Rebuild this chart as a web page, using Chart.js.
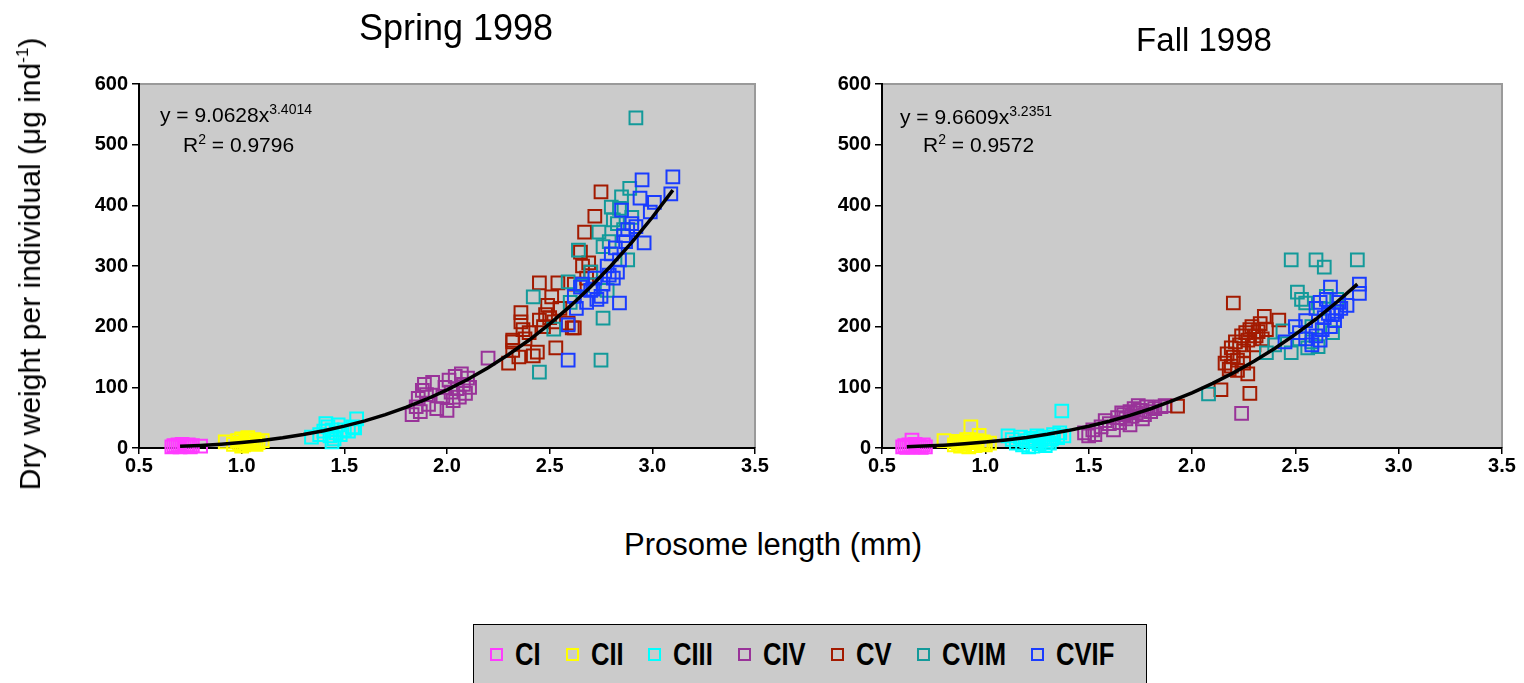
<!DOCTYPE html>
<html>
<head>
<meta charset="utf-8">
<script src="https://cdn.jsdelivr.net/npm/chart.js@4"></script>
<style>
  html, body { margin:0; padding:0; background:#fff; }
  body { width:1524px; height:683px; position:relative; overflow:hidden; font-family:"Liberation Sans", Arial, sans-serif; }
  canvas { position:absolute; top:0; }
  .abs { position:absolute; white-space:nowrap; color:#000; }
  .title { font-size:36px; transform:translateX(-50%); }
  .eq { font-size:21px; }
  .eq sup { font-size:14px; vertical-align:8px; line-height:0; }
  #ylab { font-size:30px; left:30px; top:264px; transform:translate(-50%,-50%) rotate(-90deg); }
  #ylab sup { font-size:17px; vertical-align:12px; line-height:0; }
  #xlab { font-size:31px; left:773px; top:527px; transform:translateX(-50%); }
  #legend { position:absolute; left:473px; top:624px; width:674px; height:70px; background:#cbcbcb; border:1.5px solid #000; box-sizing:border-box; display:flex; align-items:flex-start; justify-content:center; padding-top:11px; padding-right:16px; }
  .li { display:flex; align-items:center; font-weight:bold; font-size:32px; margin:0 12.5px; }
  .li span.m { display:inline-block; width:9px; height:9px; border:2px solid; margin-right:12px; flex:none; }
  .li span.t { display:inline-block; transform:scaleX(0.8); transform-origin:left center; }
</style>
</head>
<body>
<canvas id="c1" width="771" height="480" style="left:0px"></canvas>
<canvas id="c2" width="747" height="480" style="left:771px"></canvas>

<div class="abs title" style="left:456px; top:7px;">Spring 1998</div>
<div class="abs title" style="left:1204px; top:21px; font-size:33px;">Fall 1998</div>

<div class="abs eq" style="left:160px; top:103px;">y = 9.0628x<sup>3.4014</sup></div>
<div class="abs eq" style="left:183px; top:133px;">R<sup>2</sup> = 0.9796</div>
<div class="abs eq" style="left:900px; top:105px;">y = 9.6609x<sup>3.2351</sup></div>
<div class="abs eq" style="left:923px; top:133px;">R<sup>2</sup> = 0.9572</div>

<div class="abs" id="ylab">Dry weight per individual (μg ind<sup>-1</sup>)</div>
<div class="abs" id="xlab">Prosome length (mm)</div>

<div id="legend"></div>

<script>
// ---------- Data ----------
const stages = ["CI", "CII", "CIII", "CIV", "CV", "CVIM", "CVIF"];
const stageColors = ["#ff3cff", "#ffff00", "#00ffff", "#993399", "#a31a00", "#139a9a", "#1a3cff"];

const xTicks = [0.5, 1.0, 1.5, 2.0, 2.5, 3.0, 3.5];
const yTicks = [0, 100, 200, 300, 400, 500, 600];

// Spring 1998
const springCI_x = [0.66,0.67,0.68,0.69,0.70,0.71,0.72,0.73,0.74,0.75,0.76,0.80];
const springCI_y = [2,4,3,5,2,6,3,4,5,2,4,3];
const springCII_x = [0.92,0.96,0.98,0.99,1.00,1.01,1.02,1.03,1.04,1.05,1.06,1.07,1.08,1.10,1.00,1.03];
const springCII_y = [10,6,12,8,15,5,10,13,7,11,14,6,9,12,3,17];
const springCIII_x = [1.34,1.38,1.40,1.42,1.43,1.44,1.45,1.46,1.47,1.48,1.50,1.52,1.54,1.55,1.56,1.44,1.41];
const springCIII_y = [18,22,28,35,20,30,15,25,38,22,30,28,35,33,48,10,40];
const springCIV_x = [1.83,1.85,1.86,1.87,1.88,1.89,1.90,1.91,1.93,1.95,1.98,1.99,2.00,2.01,2.02,2.03,2.04,2.05,2.06,2.07,2.08,2.09,2.10,2.11,2.20];
const springCIV_y = [55,68,82,60,95,105,88,72,108,65,85,100,62,112,92,78,118,98,84,122,105,90,115,100,148];
const springCV_x = [2.75,2.72,2.67,2.65,2.45,2.54,2.36,2.61,2.32,2.51,2.49,2.36,2.37,2.45,2.47,2.52,2.32,2.32,2.30,2.42,2.44,2.53,2.59,2.62,2.66,2.70,2.68,2.40,2.48,2.55,2.38,2.50,2.62,2.69,2.35];
const springCV_y = [422,382,356,323,272,272,223,198,178,249,235,208,195,211,200,208,175,161,140,152,158,165,206,198,300,290,280,190,220,230,180,215,270,305,150];
const springCVIM_x = [2.92,2.89,2.85,2.80,2.81,2.74,2.64,2.76,2.42,2.59,2.88,2.76,2.52,2.45,2.75,2.83,2.86,2.79,2.70,2.66,2.60,2.84,2.90,2.78];
const springCVIM_y = [544,428,414,397,376,356,326,332,249,274,310,214,196,125,145,370,360,340,290,268,240,395,380,260];
const springCVIF_x = [3.10,3.09,2.95,3.01,2.94,2.85,2.99,2.96,2.84,2.59,2.59,2.70,2.72,2.75,2.78,2.80,2.82,2.83,2.86,2.88,2.65,2.68,2.73,2.76,2.79,2.84,2.90,2.62,2.66,2.71,2.63,2.81,2.87,2.92];
const springCVIF_y = [447,419,442,405,412,392,389,338,239,145,203,260,280,250,300,320,330,290,350,360,265,240,245,270,285,310,370,250,270,262,230,280,340,365];
// trend line (y = 9.0628x^3.4014)
const springTrend_x = [0.7,0.8,0.9,1.0,1.1,1.2,1.3,1.4,1.5,1.6,1.7,1.8,1.9,2.0,2.1,2.2,2.3,2.4,2.5,2.6,2.7,2.8,2.9,3.0,3.1];
const springTrend_y = [2.7,4.2,6.3,9.1,12.5,16.9,22.1,28.5,36.0,44.8,55.1,66.9,80.4,95.8,113.0,132.4,154.1,178.0,204.6,233.8,265.8,300.8,338.9,380.3,425.0];

// Fall 1998
const fallCI_x = [0.60,0.61,0.62,0.63,0.64,0.645,0.65,0.66,0.67,0.68,0.69,0.70,0.71];
const fallCI_y = [2,4,1,5,3,13,2,6,3,4,1,5,2];
const fallCII_x = [0.80,0.93,0.97,0.85,0.87,0.88,0.89,0.90,0.91,0.92,0.94,0.95,0.96,0.98,0.99,1.00,1.02,0.86];
const fallCII_y = [12,35,21,5,8,3,10,6,14,2,9,4,12,7,10,5,8,11];
const fallCIII_x = [1.11,1.13,1.15,1.17,1.18,1.20,1.22,1.23,1.24,1.25,1.26,1.27,1.28,1.29,1.30,1.32,1.33,1.35,1.36,1.38,1.37,1.21,1.31];
const fallCIII_y = [20,14,8,18,5,12,16,3,10,20,7,14,18,4,11,15,22,17,25,20,61,2,8];
const fallCIV_x = [1.48,1.50,1.52,1.53,1.56,1.58,1.60,1.62,1.64,1.65,1.67,1.68,1.70,1.71,1.72,1.73,1.74,1.75,1.76,1.77,1.78,1.80,1.82,1.85,1.87,1.70,1.66,2.24];
const fallCIV_y = [25,20,30,22,35,45,40,30,50,42,55,48,60,52,65,58,70,62,48,55,68,60,65,68,70,38,58,57];
const fallCV_x = [1.93,2.14,2.28,2.20,2.27,2.35,2.42,2.16,2.17,2.18,2.19,2.20,2.21,2.22,2.23,2.24,2.25,2.26,2.27,2.28,2.29,2.30,2.31,2.32,2.33,2.34,2.36,2.22,2.19,2.25];
const fallCV_y = [69,96,90,239,122,217,211,140,155,130,165,150,175,145,170,185,160,190,178,195,200,170,185,192,205,180,195,128,135,140];
const fallCVIM_x = [2.48,2.60,2.64,2.80,2.51,2.55,2.08,2.36,2.48,2.44,2.61,2.40,2.52,2.56,2.58,2.62,2.65,2.68,2.70,2.58,2.53];
const fallCVIM_y = [310,310,298,310,257,239,89,157,157,193,167,170,180,165,200,230,250,190,245,175,245];
const fallCVIF_x = [2.81,2.81,2.67,2.50,2.55,2.60,2.62,2.65,2.68,2.70,2.72,2.55,2.60,2.63,2.58,2.67,2.45,2.75,2.52,2.64,2.69,2.71,2.62,2.66];
const fallCVIF_y = [270,255,265,200,210,230,240,245,220,225,230,180,185,195,170,200,175,235,190,215,210,240,178,222];
// trend line (y = 9.6609x^3.2351)
const fallTrend_x = [0.62,0.7,0.8,0.9,1.0,1.1,1.2,1.3,1.4,1.5,1.6,1.7,1.8,1.9,2.0,2.1,2.2,2.3,2.4,2.5,2.6,2.7,2.8];
const fallTrend_y = [2.1,3.1,4.7,6.9,9.7,13.2,17.4,22.6,28.7,35.9,44.2,53.8,64.7,77.1,91.0,106.5,123.8,143.0,164.1,187.2,212.6,240.2,270.1];

// ---------- Build ----------
function pts(xs, ys) { return xs.map((x, i) => ({ x: x, y: ys[i] })); }

const springSeries = [
  [springCI_x, springCI_y], [springCII_x, springCII_y], [springCIII_x, springCIII_y],
  [springCIV_x, springCIV_y], [springCV_x, springCV_y], [springCVIM_x, springCVIM_y], [springCVIF_x, springCVIF_y]
];
const fallSeries = [
  [fallCI_x, fallCI_y], [fallCII_x, fallCII_y], [fallCIII_x, fallCIII_y],
  [fallCIV_x, fallCIV_y], [fallCV_x, fallCV_y], [fallCVIM_x, fallCVIM_y], [fallCVIF_x, fallCVIF_y]
];

const plotBg = {
  id: 'plotBg',
  beforeDraw(chart) {
    const { ctx, chartArea: a } = chart;
    ctx.save();
    ctx.fillStyle = '#cbcbcb';
    ctx.fillRect(a.left, a.top, a.right - a.left, a.bottom - a.top);
    ctx.strokeStyle = '#9a9a9a';
    ctx.lineWidth = 2;
    ctx.beginPath();
    ctx.moveTo(a.left, a.top);
    ctx.lineTo(a.right, a.top);
    ctx.lineTo(a.right, a.bottom);
    ctx.stroke();
    ctx.restore();
  }
};

function makeChart(id, series, trendX, trendY, padLeft) {
  const datasets = [{
    type: 'line',
    label: 'trend',
    data: pts(trendX, trendY),
    borderColor: '#000',
    borderWidth: 3.5,
    pointRadius: 0,
    fill: false,
    tension: 0,
    order: 0
  }];
  series.forEach((s, i) => {
    datasets.push({
      type: 'scatter',
      label: stages[i],
      data: pts(s[0], s[1]),
      pointStyle: 'rect',
      pointRadius: 9,
      pointBorderWidth: 2,
      borderColor: stageColors[i],
      backgroundColor: 'rgba(0,0,0,0)',
      pointBackgroundColor: 'rgba(0,0,0,0)',
      order: stages.length - i
    });
  });
  const tickFont = { family: '"Liberation Sans", Arial, sans-serif', size: 20, weight: 'bold' };
  return new Chart(document.getElementById(id), {
    data: { datasets },
    plugins: [plotBg],
    options: {
      responsive: false,
      animation: false,
      devicePixelRatio: 1,
      layout: { padding: { left: padLeft, top: 84, right: 16, bottom: 0 } },
      plugins: { legend: { display: false }, tooltip: { enabled: false } },
      clip: false,
      scales: {
        x: {
          type: 'linear',
          min: xTicks[0], max: xTicks[xTicks.length - 1],
          afterBuildTicks: (sc) => { sc.ticks = xTicks.map(v => ({ value: v })); },
          afterFit: (sc) => { sc.height = 32; },
          ticks: { font: tickFont, color: '#000', padding: 0, callback: v => Number(v).toFixed(1), maxRotation: 0 },
          grid: { drawOnChartArea: false, drawTicks: true, tickLength: 6, color: '#000', lineWidth: 1.5 },
          border: { display: true, color: '#000', width: 2 }
        },
        y: {
          type: 'linear',
          min: yTicks[0], max: yTicks[yTicks.length - 1],
          afterBuildTicks: (sc) => { sc.ticks = yTicks.map(v => ({ value: v })); },
          afterFit: (sc) => { sc.width = 59; },
          ticks: { font: tickFont, color: '#000', padding: 4 },
          grid: { drawOnChartArea: false, drawTicks: true, tickLength: 7, color: '#000', lineWidth: 1.5 },
          border: { display: true, color: '#000', width: 2 }
        }
      }
    }
  });
}

Chart.defaults.font.family = '"Liberation Sans", Arial, sans-serif';
makeChart('c1', springSeries, springTrend_x, springTrend_y, 80);
makeChart('c2', fallSeries, fallTrend_x, fallTrend_y, 52);

// legend
const lg = document.getElementById('legend');
stages.forEach((s, i) => {
  const d = document.createElement('div');
  d.className = 'li';
  d.innerHTML = '<span class="m" style="border-color:' + stageColors[i] + '"></span><span class="t">' + s + '</span>';
  lg.appendChild(d);
});
// compensate horizontal condensing of the legend labels in layout
lg.querySelectorAll('span.t').forEach(t => {
  const w = t.getBoundingClientRect().width / 0.8;
  t.style.marginRight = (-(w * 0.2)) + 'px';
});
</script>
</body>
</html>
